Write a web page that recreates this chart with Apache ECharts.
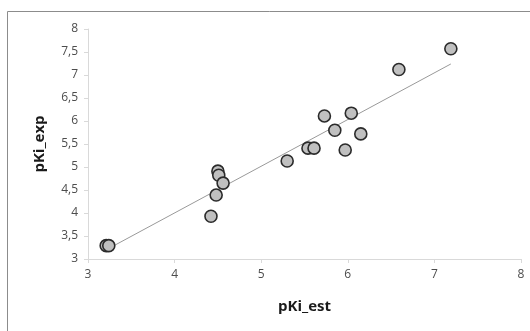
<!DOCTYPE html>
<html>
<head>
<meta charset="utf-8">
<script src="https://cdn.jsdelivr.net/npm/echarts@6/dist/echarts.min.js"></script>
<style>
  html, body { margin: 0; padding: 0; background: #fff; }
  #chart { width: 530px; height: 331px; }
</style>
</head>
<body>
<div id="chart"></div>
<script>
// measured points (pKi_est, pKi_exp)
const pKiEst = [3.21, 3.24, 4.42, 4.48, 4.50, 4.51, 4.56, 5.30, 5.54, 5.61, 5.97, 5.85, 5.73, 6.04, 6.15, 6.59, 7.19];
const pKiExp = [3.29, 3.29, 3.93, 4.39, 4.91, 4.82, 4.65, 5.13, 5.41, 5.41, 5.37, 5.80, 6.11, 6.17, 5.72, 7.12, 7.57];
// trend line end points
const trendX = [3.27, 7.19];
const trendY = [3.26, 7.24];

const points = pKiEst.map((x, i) => [x, pKiExp[i]]);
const trend = trendX.map((x, i) => [x, trendY[i]]);

const fmt = (v) => String(v).replace('.', ',');

const chart = echarts.init(document.getElementById('chart'));
chart.setOption({
  animation: false,
  grid: { left: 88, right: 9, top: 29, bottom: 72 },
  graphic: [{
    type: 'rect',
    shape: { x: 7.5, y: 11.5, width: 600, height: 400 },
    style: { fill: 'none', stroke: '#8c8c8c', lineWidth: 1 },
    silent: true
  }],
  xAxis: {
    type: 'value',
    min: 3, max: 8, interval: 1,
    name: 'pKi_est',
    nameLocation: 'middle',
    nameGap: 40,
    nameTextStyle: { fontFamily: 'Open Sans', fontWeight: 'bold', fontSize: 15, color: '#1a1a1a' },
    axisLine: { show: true, lineStyle: { color: '#d9d9d9' } },
    axisTick: { show: true, length: 4, lineStyle: { color: '#d9d9d9' } },
    axisLabel: { fontFamily: 'Open Sans', fontSize: 12, color: '#4d4d4d', margin: 10 },
    splitLine: { show: false }
  },
  yAxis: {
    type: 'value',
    min: 3, max: 8, interval: 0.5,
    name: 'pKi_exp',
    nameLocation: 'middle',
    nameGap: 41,
    nameTextStyle: { fontFamily: 'Open Sans', fontWeight: 'bold', fontSize: 15, color: '#1a1a1a' },
    axisLine: { show: true, lineStyle: { color: '#d9d9d9' } },
    axisTick: { show: true, length: 4, lineStyle: { color: '#d9d9d9' } },
    axisLabel: { fontFamily: 'Open Sans', fontSize: 12, color: '#4d4d4d', margin: 10, formatter: fmt },
    splitLine: { show: false }
  },
  series: [
    {
      type: 'line',
      data: trend,
      symbol: 'none',
      lineStyle: { color: '#999', width: 1 },
      z: 1
    },
    {
      type: 'scatter',
      data: points,
      symbol: 'circle',
      symbolSize: 12,
      itemStyle: { color: '#c0c0c0', borderColor: '#2b2b2b', borderWidth: 1.6, opacity: 1 },
      z: 2
    }
  ]
});
</script>
</body>
</html>
